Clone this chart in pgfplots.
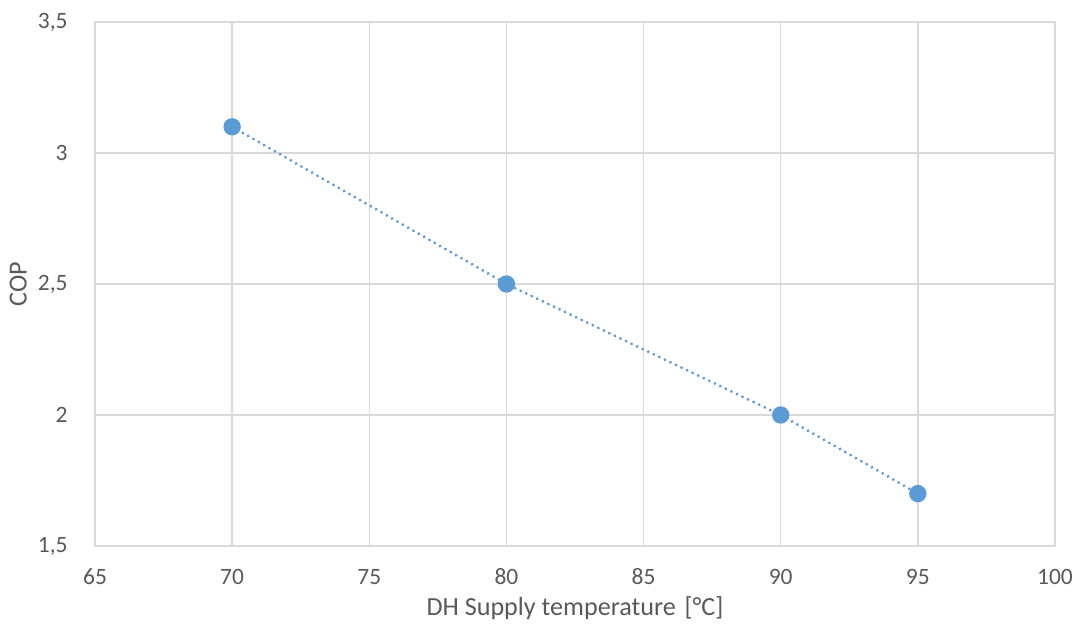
\documentclass[border=0pt]{standalone}
\usepackage{pgfplots}
\pgfplotsset{compat=1.18}
\usepackage{fontspec}
\setmainfont{Carlito}
\definecolor{ser}{HTML}{5B9BD5}
\definecolor{gridc}{HTML}{D9D9D9}
\definecolor{txt}{HTML}{595959}
\begin{document}
\begin{tikzpicture}[x=0.75pt,y=0.75pt]
\path[use as bounding box] (-95,-84) rectangle (986,546);
\begin{axis}[
  at={(0,0)}, anchor=origin,
  scale only axis,
  width=720pt, height=393pt,
  xmin=65, xmax=100, ymin=1.5, ymax=3.5,
  xtick={65,70,...,100},
  ytick={1.5,2,2.5,3,3.5},
  grid=major,
  major grid style={gridc, line width=1pt},
  axis line style={gridc, line width=1pt},
  major tick length=0pt,
  tick label style={font=\fontsize{17.6}{20}\selectfont, text=txt},
  /pgf/number format/assume math mode=true,
  /pgf/number format/use comma,
  yticklabel style={/pgf/number format/fixed},
  xlabel={DH Supply temperature\,\,[°C]},
  ylabel={COP},
  label style={font=\fontsize{19.6}{22}\selectfont, text=txt},
  xlabel style={at={(axis description cs:0.5,0)}, anchor=center, yshift=-46.5pt},
  ylabel style={at={(axis description cs:0,0.5)}, anchor=center, yshift=57.5pt},
  xticklabel style={yshift=-23pt, anchor=center},
  yticklabel style={xshift=-17pt, anchor=east},
  clip=false,
]
\addplot[ser, line width=2.4pt, line cap=round, dash pattern=on 0.01pt off 4.6pt,
  mark=*, mark size=5.3pt, mark options={solid, fill=ser, draw=ser}]
  coordinates {(70,3.1) (80,2.5) (90,2.0) (95,1.7)};
\end{axis}
\end{tikzpicture}
\end{document}
